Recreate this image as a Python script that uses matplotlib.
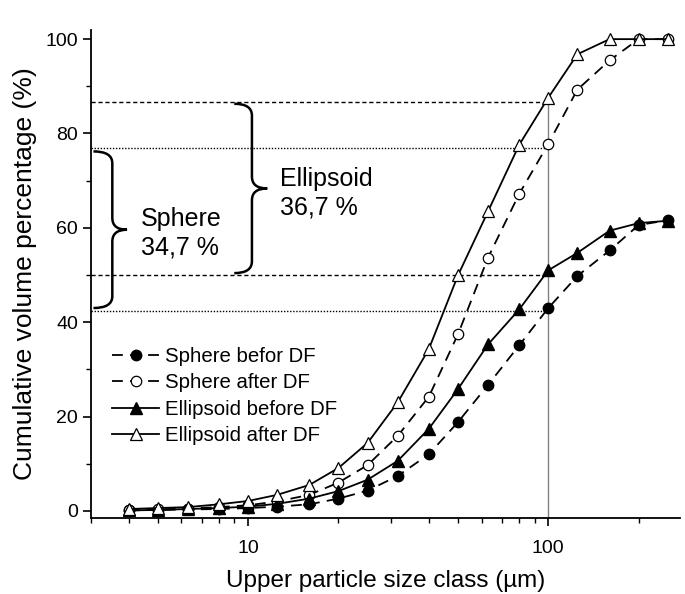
import numpy as np
import matplotlib
matplotlib.use("Agg")
from matplotlib import pyplot as plt
from matplotlib.path import Path
from matplotlib.patches import PathPatch
from matplotlib.ticker import LogLocator, NullFormatter, FixedLocator

plt.rcParams['font.family'] = ['Liberation Sans', 'DejaVu Sans']

# Upper particle size class (um)
sizes = [4, 5, 6.3, 8, 10, 12.5, 16, 20, 25, 31.5, 40, 50, 63, 80, 100, 125, 160, 200, 250]

# cumulative volume percentage (%)
sphere_before = [0.1, 0.2, 0.3, 0.4, 0.6, 0.9, 1.4, 2.6, 4.3, 7.4, 12.0, 18.8, 26.7, 35.1,
                 43.0, 49.8, 55.2, 60.6, 61.6]
sphere_after = [0.2, 0.3, 0.5, 0.8, 1.2, 2.0, 3.4, 6.0, 9.7, 15.9, 24.2, 37.4, 53.7, 67.2,
                77.8, 89.3, 95.5, 100, 100]
ellipsoid_before = [0.1, 0.2, 0.4, 0.6, 0.9, 1.5, 2.6, 4.2, 6.6, 10.6, 17.4, 25.8, 35.3, 42.7,
                    51.0, 54.7, 59.4, 61.0, 61.5]
ellipsoid_after = [0.4, 0.6, 0.8, 1.4, 2.1, 3.4, 5.5, 9.1, 14.4, 23.0, 34.3, 49.9, 63.5, 77.6,
                   87.6, 96.8, 100, 100, 100]

# reference levels read at 100 um
cut_size = 100
ellipsoid_levels = [86.7, 50.0]
sphere_levels = [77.0, 42.3]

fig = plt.figure(figsize=(6.85, 5.94), dpi=100)
ax = fig.add_axes([0.133, 0.128, 0.86, 0.822])

ms_c = 7.5
ms_t = 8.8
ax.plot(sizes, sphere_before, '--', color='black', lw=1.3, dashes=(6, 4),
        marker='o', ms=ms_c, mfc='black', mec='black', label='Sphere befor DF', zorder=4)
ax.plot(sizes, sphere_after, '--', color='black', lw=1.3, dashes=(6, 4),
        marker='o', ms=ms_c, mfc='white', mec='black', mew=0.9, label='Sphere after DF', zorder=4)
ax.plot(sizes, ellipsoid_before, '-', color='black', lw=1.3,
        marker='^', ms=ms_t, mfc='black', mec='black', label='Ellipsoid before DF', zorder=5)
ax.plot(sizes, ellipsoid_after, '-', color='black', lw=1.3,
        marker='^', ms=ms_t, mfc='white', mec='black', mew=0.9, label='Ellipsoid after DF', zorder=5)

ax.set_xscale('log')
ax.set_xlim(3.0, 275)
ax.set_ylim(-1.5, 102)

# reference lines
ax.plot([cut_size, cut_size], [-1.5, ellipsoid_levels[0]], color='#808080', lw=1, zorder=2)
for lv in ellipsoid_levels:
    ax.plot([3.0, cut_size], [lv, lv], color='black', lw=1, dashes=(3, 2), zorder=2)
for lv in sphere_levels:
    ax.plot([3.0, cut_size], [lv, lv], color='black', lw=1, dashes=(1, 1.2), zorder=2)


def brace(xv, xh, xt, top, bot):
    trans = ax.get_yaxis_transform()
    mid = (top + bot) / 2
    r = 2.5
    verts = [(xh, top), (xv, top), (xv, top - r),
             (xv, mid + r), (xv, mid), (xt, mid),
             (xv, mid), (xv, mid - r),
             (xv, bot + r), (xv, bot), (xh, bot)]
    codes = [Path.MOVETO, Path.CURVE3, Path.CURVE3,
             Path.LINETO, Path.CURVE3, Path.CURVE3,
             Path.CURVE3, Path.CURVE3,
             Path.LINETO, Path.CURVE3, Path.CURVE3]
    ax.add_patch(PathPatch(Path(verts, codes), fc='none', ec='black', lw=1.8,
                           transform=trans, clip_on=False, zorder=3))


brace(0.273, 0.243, 0.299, 86.3, 50.4)
brace(0.036, 0.004, 0.061, 76.2, 43.0)

ax.text(0.32, 67.3, 'Ellipsoid\n36,7 %', transform=ax.get_yaxis_transform(),
        fontsize=18, va='center', ha='left', linespacing=1.26)
ax.text(0.085, 58.8, 'Sphere\n34,7 %', transform=ax.get_yaxis_transform(),
        fontsize=18, va='center', ha='left', linespacing=1.26)

ax.spines['top'].set_visible(False)
ax.spines['right'].set_visible(False)
for s in ['left', 'bottom']:
    ax.spines[s].set_linewidth(1.3)

ax.yaxis.set_major_locator(FixedLocator([0, 20, 40, 60, 80, 100]))
ax.yaxis.set_minor_locator(FixedLocator([10, 30, 50, 70, 90]))
ax.xaxis.set_minor_locator(LogLocator(base=10, subs=np.arange(2, 10)))
ax.xaxis.set_minor_formatter(NullFormatter())
ax.set_xticks([10, 100])
ax.set_xticklabels(['10', '100'])
ax.tick_params(which='major', direction='out', length=6, width=1.2, labelsize=14)
ax.tick_params(which='minor', direction='out', length=3.5, width=1.0)
ax.tick_params(axis='x', which='major', pad=10)

ax.set_xlabel('Upper particle size class (µm)', fontsize=17.5, labelpad=9)
ax.set_ylabel('Cumulative volume percentage (%)', fontsize=19, labelpad=6)

ax.legend(loc='upper left', bbox_to_anchor=(0.036, 0.35), frameon=False, fontsize=14.7,
          borderaxespad=0, borderpad=0, handlelength=2.3, handletextpad=0.3,
          labelspacing=0.36)

fig.savefig('out.png', dpi=100)
